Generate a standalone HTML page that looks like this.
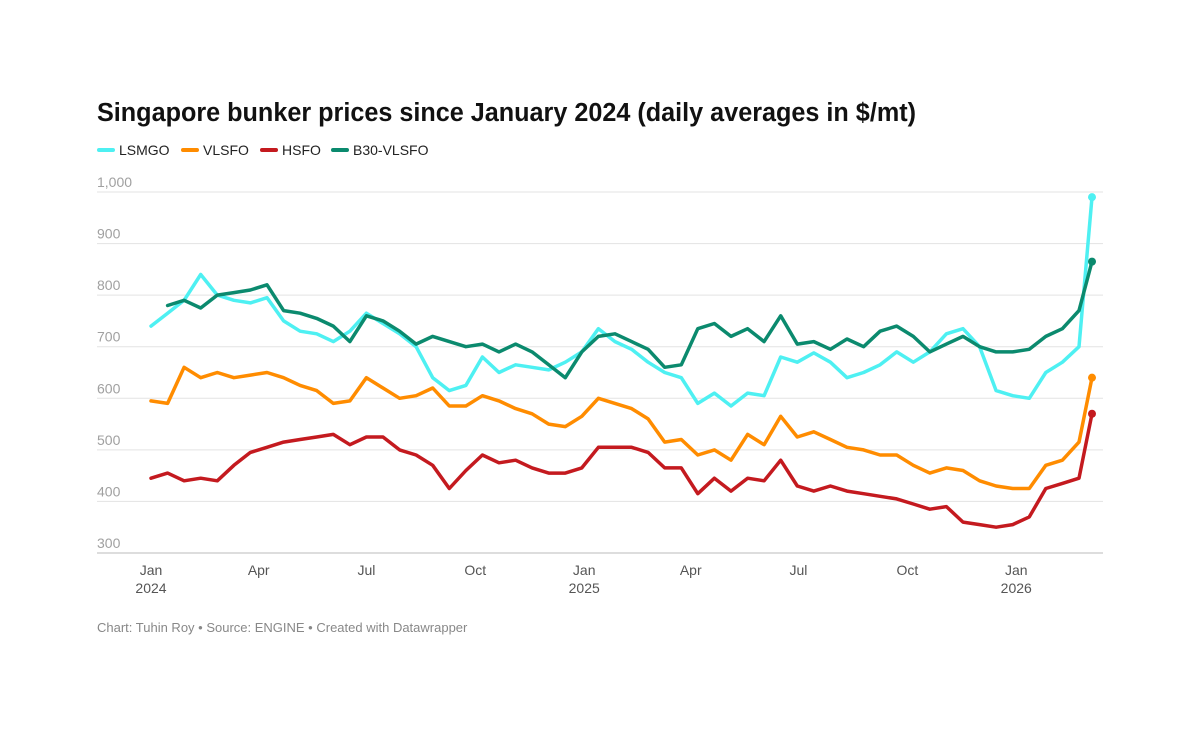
<!DOCTYPE html>
<html><head><meta charset="utf-8"><style>
html,body{margin:0;padding:0;background:#fff;}
svg{display:block;font-family:"Liberation Sans",Arial,sans-serif;}
</style></head><body>
<svg id="chart" width="1200" height="732" viewBox="0 0 1200 732">
<text x="97" y="121" font-size="25.5" font-weight="bold" fill="#111" textLength="819" lengthAdjust="spacingAndGlyphs">Singapore bunker prices since January 2024 (daily averages in $/mt)</text>
<g font-size="14" fill="#222">
<g><rect x="97" y="148" width="18" height="4" rx="2" fill="#4EF0F2"/><text x="119" y="155">LSMGO</text></g>
<g><rect x="181" y="148" width="18" height="4" rx="2" fill="#FF8C00"/><text x="203" y="155">VLSFO</text></g>
<g><rect x="260" y="148" width="18" height="4" rx="2" fill="#C41A1F"/><text x="282" y="155">HSFO</text></g>
<g><rect x="331" y="148" width="18" height="4" rx="2" fill="#0B8A6E"/><text x="353" y="155">B30-VLSFO</text></g>
</g>
<g id="grid"></g>
<g id="xaxis"></g>
<g id="series"></g>
<text x="97" y="632" font-size="13" fill="#888">Chart: Tuhin Roy • Source: ENGINE • Created with Datawrapper</text>
</svg>
<script>
const yTicks = [300,400,500,600,700,800,900,1000];
const yTickLabels = ["300","400","500","600","700","800","900","1,000"];
const xTickDays = [0,91,182,274,366,456,547,639,731];
const xTickMonths = ["Jan","Apr","Jul","Oct","Jan","Apr","Jul","Oct","Jan"];
const xTickYears = ["2024","","","","2025","","","","2026"];
const days = [0,14,28,42,56,70,84,98,112,126,140,154,168,182,196,210,224,238,252,266,280,294,308,322,336,350,364,378,392,406,420,434,448,462,476,490,504,518,532,546,560,574,588,602,616,630,644,658,672,686,700,714,728,742,756,770,784,795];
const lsmgo = [740,765,790,840,800,790,785,795,750,730,725,710,730,765,745,725,700,640,615,625,680,650,665,660,655,670,690,735,710,695,670,650,640,590,610,585,610,605,680,670,688,670,640,650,665,690,670,690,725,735,700,615,605,600,650,670,700,990];
const vlsfo = [595,590,660,640,650,640,645,650,640,625,615,590,595,640,620,600,605,620,585,585,605,595,580,570,550,545,565,600,590,580,560,515,520,490,500,480,530,510,565,525,535,520,505,500,490,490,470,455,465,460,440,430,425,425,470,480,515,640];
const hsfo = [445,455,440,445,440,470,495,505,515,520,525,530,510,525,525,500,490,470,425,460,490,475,480,465,455,455,465,505,505,505,495,465,465,415,445,420,445,440,480,430,420,430,420,415,410,405,395,385,390,360,355,350,355,370,425,435,445,570];
const b30 = [null,780,790,775,800,805,810,820,770,765,755,740,710,760,750,730,705,720,710,700,705,690,705,690,665,640,690,720,725,710,695,660,665,735,745,720,735,710,760,705,710,695,715,700,730,740,720,690,705,720,700,690,690,695,720,735,770,865];

const X0=151, PXD=(1092-151)/795;
const xScale = d => X0 + d*PXD;
const yScale = v => 553 - (v-300)*(553-192)/700;
const NS="http://www.w3.org/2000/svg";
const grid=document.getElementById('grid');
yTicks.forEach((t,i)=>{
  const l=document.createElementNS(NS,'line');
  
  
  l.setAttribute('x1',97);l.setAttribute('x2',1103);
  l.setAttribute('y1',yScale(t));l.setAttribute('y2',yScale(t));
  l.setAttribute('stroke',i===0?'#bbb':'#e3e3e3');l.setAttribute('stroke-width',1);
  grid.appendChild(l);
  const tx=document.createElementNS(NS,'text');
  
  
  tx.setAttribute('x',97);tx.setAttribute('y',yScale(t)-5);
  tx.setAttribute('font-size',14);tx.setAttribute('fill','#a0a0a0');
  tx.textContent=yTickLabels[i];
  grid.appendChild(tx);
});
const xa=document.getElementById('xaxis');
xTickDays.forEach((d,i)=>{
  const t1=document.createElementNS(NS,'text');
  
  
  t1.setAttribute('x',xScale(d));t1.setAttribute('y',575);
  t1.setAttribute('text-anchor','middle');t1.setAttribute('font-size',14);t1.setAttribute('fill','#555');
  t1.textContent=xTickMonths[i];xa.appendChild(t1);
  if(xTickYears[i]){
    const t2=document.createElementNS(NS,'text');
    
    
    t2.setAttribute('x',xScale(d));t2.setAttribute('y',593);
    t2.setAttribute('text-anchor','middle');t2.setAttribute('font-size',14);t2.setAttribute('fill','#555');
    t2.textContent=xTickYears[i];xa.appendChild(t2);
  }
});
const sg=document.getElementById('series');
function drawSeries(vals,color,name){
  let dstr='';let started=false;let last=null;
  vals.forEach((v,i)=>{
    if(v===null) return;
    const x=xScale(days[i]),y=yScale(v);
    dstr+=(started?'L':'M')+x.toFixed(1)+','+y.toFixed(1);
    started=true;last=[x,y];
  });
  const p=document.createElementNS(NS,'path');
  
  
  p.setAttribute('d',dstr);p.setAttribute('fill','none');
  p.setAttribute('stroke',color);p.setAttribute('stroke-width',3.5);
  p.setAttribute('stroke-linejoin','round');p.setAttribute('stroke-linecap','round');
  sg.appendChild(p);
  const c=document.createElementNS(NS,'circle');
  
  
  c.setAttribute('cx',last[0]);c.setAttribute('cy',last[1]);c.setAttribute('r',4);
  c.setAttribute('fill',color);
  sg.appendChild(c);
}
drawSeries(lsmgo,'#4EF0F2','lsmgo');
drawSeries(vlsfo,'#FF8C00','vlsfo');
drawSeries(hsfo,'#C41A1F','hsfo');
drawSeries(b30,'#0B8A6E','b30-vlsfo');
</script>
</body></html>
